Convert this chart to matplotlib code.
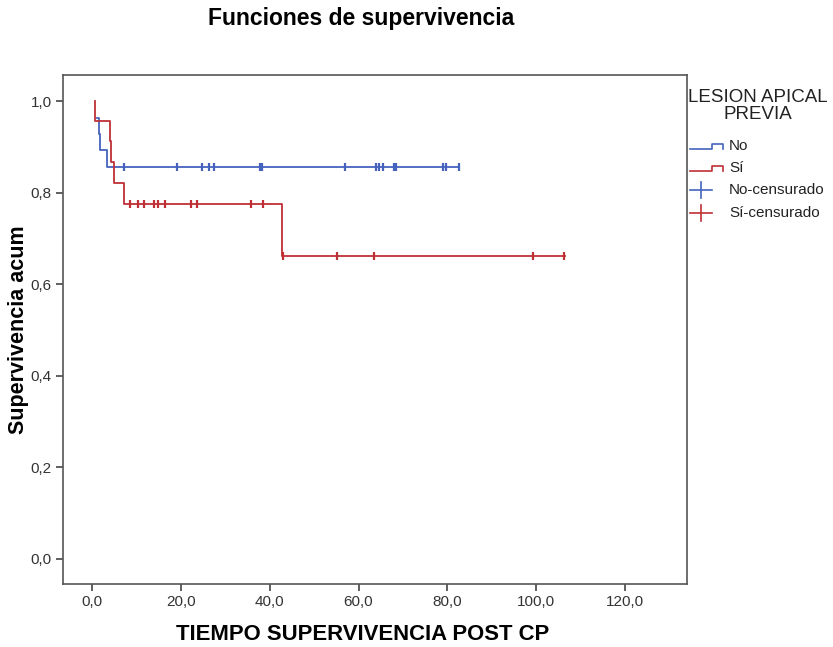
import matplotlib
matplotlib.use("Agg")
import matplotlib.pyplot as plt
from matplotlib.lines import Line2D
import numpy as np

plt.rcParams['font.family'] = ['Liberation Sans', 'DejaVu Sans']

# Kaplan-Meier step data (time of step, survival after step)
no_times = [1.0, 1.5, 1.8, 3.4, 82.7]
no_surv = [0.964, 0.929, 0.893, 0.857, 0.857]
si_times = [0.6, 0.6, 3.9, 4.3, 4.8, 7.2, 42.7, 106.5]
si_surv = [1.0, 0.957, 0.913, 0.867, 0.821, 0.775, 0.662, 0.662]

# censored observations
no_cens_t = [7.2, 19.1, 24.7, 26.4, 27.5, 37.8, 38.2, 57.0, 64.0, 64.7, 65.5,
             67.9, 68.4, 79.1, 79.7, 82.7]
no_cens_s = [0.857] * len(no_cens_t)
si_cens_t = [8.4, 10.2, 11.7, 14.0, 14.9, 16.3, 22.2, 23.7, 35.7, 38.4]
si_cens_s = [0.775] * len(si_cens_t)
si_cens2_t = [42.9, 55.2, 63.5, 99.4, 106.4]
si_cens2_s = [0.662] * len(si_cens2_t)

xticks = [0, 20, 40, 60, 80, 100, 120]
xticklabels = ["0,0", "20,0", "40,0", "60,0", "80,0", "100,0", "120,0"]
yticks = [0.0, 0.2, 0.4, 0.6, 0.8, 1.0]
yticklabels = ["0,0", "0,2", "0,4", "0,6", "0,8", "1,0"]

BLUE = '#4563BE'
RED = '#BF3036'

fig = plt.figure(figsize=(8.33, 6.47), dpi=100)
ax = fig.add_axes([0.0756, 0.0974, 0.749, 0.7867])

ax.step(no_times, no_surv, where='post', color=BLUE, lw=1.3, zorder=2)
ax.step(si_times, si_surv, where='post', color=RED, lw=1.3, zorder=3)
ax.plot(no_cens_t, no_cens_s, ls='none', marker='|', ms=6, mew=1.6, color=BLUE, zorder=4)
ax.plot(si_cens_t, si_cens_s, ls='none', marker='|', ms=6, mew=1.6, color=RED, zorder=4)
ax.plot(si_cens2_t, si_cens2_s, ls='none', marker='|', ms=6, mew=1.6, color=RED, zorder=4)

ax.set_xlim(-6.6, 134)
ax.set_ylim(-0.055, 1.057)
ax.set_xticks(xticks)
ax.set_xticklabels(xticklabels)
ax.set_yticks(yticks)
ax.set_yticklabels(yticklabels)
ax.tick_params(axis='both', direction='out', length=5, width=1.2, color='#444444',
               labelsize=11, labelcolor='#333333', pad=3)
for s in ax.spines.values():
    s.set_color('#555555')
    s.set_linewidth(1.2)

ax.set_xlabel("TIEMPO SUPERVIVENCIA POST CP", fontsize=15.9, fontweight='bold', va='center')
ax.xaxis.set_label_coords(0.481, -0.10)
ax.set_ylabel("Supervivencia acum", fontsize=15.5, fontweight='bold', va='center')
ax.yaxis.set_label_coords(-0.072, 0.5)

fig.text(0.433, 0.972, "Funciones de supervivencia", ha='center', va='center',
         fontsize=16.5, fontweight='bold')

# Legend drawn manually
fig.text(0.910, 0.836, "LESION APICAL\nPREVIA", ha='center', va='center',
         fontsize=13.5, color='#222222', linespacing=1.0)

def px(x, y):
    return x / 833.0, 1 - y / 647.0

def step_handle(y, color):
    xs = [690, 712, 712, 723, 723]
    ys = [y + 3, y + 3, y - 2, y - 2, y + 3]
    pts = [px(a, b) for a, b in zip(xs, ys)]
    fig.add_artist(Line2D([p[0] for p in pts], [p[1] for p in pts],
                          transform=fig.transFigure, color=color, lw=1.2))

step_handle(146, BLUE)
step_handle(168, RED)
for yy, col in [(190, BLUE), (213, RED)]:
    cx, cy = px(701, yy)
    fig.add_artist(Line2D([cx - 11 / 833, cx + 11 / 833], [cy, cy],
                          transform=fig.transFigure, color=col, lw=1.2))
    fig.add_artist(Line2D([cx, cx], [cy - 8 / 647, cy + 8 / 647],
                          transform=fig.transFigure, color=col, lw=1.2))

for label, yy in [("No", 146), ("Sí", 168), ("No-censurado", 190), ("Sí-censurado", 213)]:
    x0, y0 = px(729, yy)
    fig.text(x0, y0, label, ha='left', va='center', fontsize=11, color='#222222')

fig.savefig("out.png", dpi=100)
